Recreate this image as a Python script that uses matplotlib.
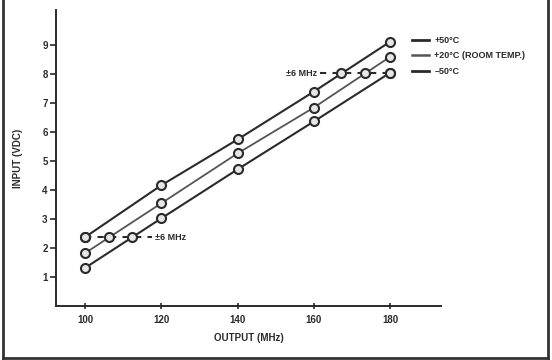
import matplotlib
matplotlib.use("Agg")
import matplotlib.pyplot as plt
from matplotlib.lines import Line2D

# data
output_mhz = [100, 120, 140, 160, 180]
input_hot = [2.37, 4.16, 5.74, 7.39, 9.11]     # +50°C
input_room = [1.82, 3.54, 5.26, 6.84, 8.59]    # +20°C
input_cold = [1.31, 3.02, 4.71, 6.36, 8.04]    # -50°C
labels = ["+50°C", "+20°C (ROOM TEMP.)", "\u201350°C"]

# +-6 MHz markers at fixed input levels
low_level = 2.37
low_x = [100, 106.4, 112.4]
high_level = 8.02
high_x = [167.1, 173.3, 180]

plt.rcParams["font.family"] = ["Liberation Sans", "DejaVu Sans"]
plt.rcParams["font.weight"] = "bold"
plt.rcParams["axes.labelweight"] = "bold"

fig = plt.figure(figsize=(5.52, 3.6), dpi=100)
ax = fig.add_axes([0.1014, 0.15, 0.698, 0.822])

dark = "#2a2a2a"
mk = dict(marker="o", ms=6.5, mfc="#e6e6e6", mec=dark, mew=1.5)
series = [(input_hot, dark, 1.5), (input_room, "#555555", 1.3), (input_cold, dark, 1.5)]
for ys, c, lw in series:
    ax.plot(output_mhz, ys, color=c, lw=lw, zorder=3, **mk)

ax.plot(low_x, [low_level] * 3, ls="none", zorder=4, **mk)
ax.plot([100, 117.5], [low_level] * 2, ls=(0, (3, 3)), color=dark, lw=1.5, zorder=2)
ax.text(118.3, low_level, "\u00b16 MHz", fontsize=6.5, va="center", ha="left", color=dark)

ax.plot(high_x, [high_level] * 3, ls="none", zorder=4, **mk)
ax.plot([161.5, 180], [high_level] * 2, ls=(0, (3, 3)), color=dark, lw=1.5, zorder=2)
ax.text(160.8, high_level, "\u00b16 MHz", fontsize=6.5, va="center", ha="right", color=dark)

# labels at the line ends
for ys, (_, c, lw), lab in zip([input_hot, input_room, input_cold], series, labels):
    y = ys[-1] + 0.05
    ax.plot([185.8, 190.3], [y, y], color=c, lw=lw + 0.5, clip_on=False)
    ax.text(191.6, y, lab, fontsize=6.5, va="center", ha="left", color=dark, clip_on=False)

ax.set_xlim(92.4, 193.4)
ax.set_ylim(0, 10.2)
ax.set_xticks(output_mhz)
ax.set_yticks(range(1, 10))
ax.spines["top"].set_visible(False)
ax.spines["right"].set_visible(False)
for s in ("left", "bottom"):
    ax.spines[s].set_color(dark)
    ax.spines[s].set_linewidth(1.4)
ax.tick_params(axis="y", direction="out", length=4, width=1.2, colors=dark, labelsize=7, pad=2)
ax.tick_params(axis="x", direction="inout", length=5, width=1.2, colors=dark, labelsize=7, pad=4)
ax.set_xlabel("OUTPUT (MHz)", fontsize=7, color=dark, labelpad=6)
ax.set_ylabel("INPUT (VDC)", fontsize=7, color=dark, labelpad=14)

# scanned page frame
for xs, ys in [([0.006, 0.006], [0.0, 1.0]), ([0.993, 0.993], [0.0, 1.0]), ([0.006, 0.993], [0.006, 0.006])]:
    fig.add_artist(Line2D(xs, ys, color="#333333", lw=2.0, transform=fig.transFigure))

fig.savefig("out.png", dpi=100)
